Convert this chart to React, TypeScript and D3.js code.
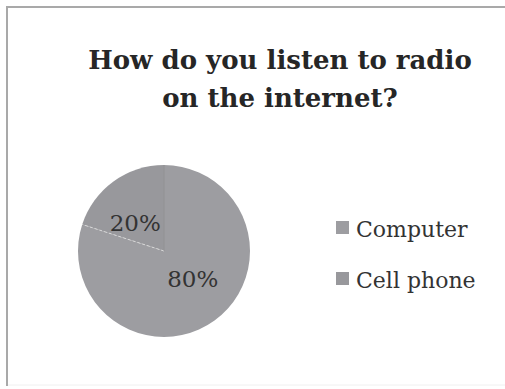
import React from "react";
import * as d3 from "d3";

const categories = ["Computer", "Cell phone"];
const values = [80, 20];
const labels = ["80%", "20%"];
const titleLines = ["How do you listen to radio", "on the internet?"];

const W = 505;
const H = 389;
const FONT = "'DejaVu Serif', serif";

export default function App() {
  const cx = 164, cy = 251, r = 86;
  const pie = d3.pie<number>().sort(null).startAngle(0).endAngle(2 * Math.PI);
  const arcs = pie(values);
  const arc = d3.arc<d3.PieArcDatum<number>>().innerRadius(0).outerRadius(r);
  const colors = ["#9d9da1", "#98989c"];
  const legendY = d3.scalePoint<string>().domain(categories).range([229, 280]);

  return (
    <svg width={W} height={H} style={{ position: "absolute", left: 0, top: 0 }}>
      <rect x={0} y={0} width={W} height={H} fill="#fff" />
      <line x1={7} y1={7} x2={W} y2={7} stroke="#a9a9a9" strokeWidth={2} />
      <line x1={7} y1={6} x2={7} y2={386} stroke="#a9a9a9" strokeWidth={2} />
      <line x1={8} y1={385} x2={W} y2={385} stroke="#f0f0f0" strokeWidth={1} />
      {titleLines.map((t, i) => (
        <text key={i} x={280} y={69 + i * 38} textAnchor="middle" fontFamily={FONT}
          fontWeight="bold" fontSize={26} fill="#262626">{t}</text>
      ))}
      <g transform={`translate(${cx},${cy})`}>
        {arcs.map((a, i) => (
          <path key={i} d={arc(a) || ""} fill={colors[i]} />
        ))}
        {arcs.map((a, i) => {
          const p = d3.pointRadial(a.endAngle, r);
          return i === 0 ? (
            <line key={"s" + i} x1={0} y1={0} x2={p[0]} y2={p[1]} stroke="#d8d8d8" strokeWidth={1} strokeDasharray="3,2" />
          ) : null;
        })}
        <line x1={0} y1={0} x2={0} y2={-r} stroke="#8f8f93" strokeWidth={0.8} />
        {arcs.map((a, i) => {
          const mid = (a.startAngle + a.endAngle) / 2 - (10 * Math.PI) / 180;
          const [x, y] = d3.pointRadial(mid, 40);
          return (
            <text key={"l" + i} x={x} y={y} textAnchor="middle" dominantBaseline="central"
              fontFamily={FONT} fontSize={23} fill="#333">{labels[i]}</text>
          );
        })}
      </g>
      {categories.map((c, i) => {
        const y = legendY(c) as number;
        return (
          <g key={c}>
            <rect x={336} y={y - 8} width={13} height={13} fill={colors[i]} />
            <text x={356} y={y} dominantBaseline="central" fontFamily={FONT} fontSize={22} fill="#333">{c}</text>
          </g>
        );
      })}
    </svg>
  );
}
